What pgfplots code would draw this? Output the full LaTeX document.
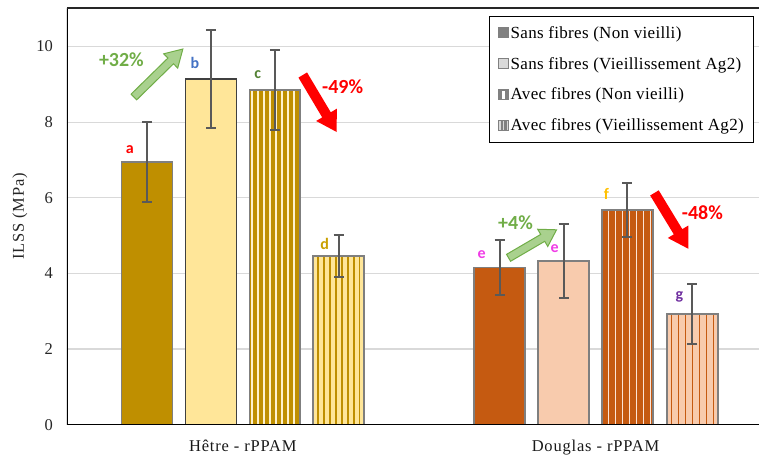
\documentclass[border=0pt]{standalone}
\usepackage{pgfplots}
\pgfplotsset{compat=1.18}
\usetikzlibrary{patterns.meta}
\usepackage{fontspec}
\setmainfont{Liberation Serif}
\newfontfamily\lsA{Liberation Serif}[LetterSpace=5]
\newfontfamily\lsB{Liberation Serif}[LetterSpace=2]
\newfontfamily\calib{Carlito}
\definecolor{hD}{HTML}{BF8F00}
\definecolor{hL}{HTML}{FFE699}
\definecolor{hS}{HTML}{FFF2CC}
\definecolor{dD}{HTML}{C55A11}
\definecolor{dL}{HTML}{F8CBAD}
\definecolor{dS}{HTML}{FCE4D6}
\definecolor{edge}{HTML}{7F7F7F}
\definecolor{gridc}{HTML}{D9D9D9}
\definecolor{ebar}{HTML}{595959}
\definecolor{gArF}{HTML}{A9D18E}
\definecolor{gArD}{HTML}{70AD47}
\definecolor{lb}{HTML}{4472C4}
\definecolor{lc}{HTML}{548235}
\definecolor{ld}{HTML}{C9A000}
\definecolor{le}{HTML}{F03CE6}
\definecolor{lf}{HTML}{FFC000}
\definecolor{lg}{HTML}{7030A0}
\pgfplotsset{
  bb/.style={ybar, bar width=51, line width=1.5pt, forget plot},
  eb/.style={error bars/.cd, y dir=both, y explicit,
    error bar style={draw=ebar, line width=2pt},
    error mark options={rotate=90, draw=ebar, line width=2pt, mark size=5pt}},
  strH/.style={pattern={Lines[angle=90,distance=6pt,line width=1.6pt]}},
  strD/.style={pattern={Lines[angle=90,distance=7pt,line width=1.6pt]}},
}
\begin{document}
\begin{tikzpicture}
\begin{axis}[
  at={(0,0)}, anchor=south west,
  scale only axis, width=693pt, height=417pt,
  xmin=0, xmax=693, ymin=0, ymax=11.02,
  axis line style={draw=none},
  ymajorgrids, grid style={gridc, line width=1.3pt},
  ytick={0,2,4,6,8,10},
  xtick={176,529},
  xticklabels={Hêtre - rPPAM, Douglas - rPPAM},
  major tick length=0pt,
  tick style={draw=none},
  /pgf/number format/assume math mode=true,
  yticklabel style={font=\fontsize{16.5}{18}\selectfont, text=black!85, anchor=east, inner sep=0pt, xshift=-14pt},
  xticklabel style={font=\lsA\fontsize{16.5}{18}\selectfont, text=black!90, anchor=base, inner sep=0pt, yshift=-26.7pt},
  ylabel={ILSS (MPa)},
  every axis y label/.style={at={(axis description cs:0,0.5)}, xshift=-47pt, rotate=90, anchor=center, font=\lsA\fontsize{16.5}{18}\selectfont, text=black!85},
  legend style={at={(axis cs:688,10.82)}, anchor=north east, draw=black, line width=1.2pt,
    font=\lsB\fontsize{17}{19}\selectfont, inner xsep=8.5pt, inner ysep=8pt, row sep=13.5pt,
    cells={anchor=west}, nodes={inner xsep=1.5pt}},
]
% Hetre
\addplot[bb, fill=hD, draw=edge, eb] coordinates {(80,6.95) +- (0,1.06)};
\addplot[bb, fill=hL, draw=black!75, eb] coordinates {(144,9.14) +- (0,1.29)};
\addplot[bb, fill=hD, draw=edge] coordinates {(208,8.85)};
\addplot[bb, strH, pattern color=hS, draw=edge, eb] coordinates {(208,8.85) +- (0,1.06)};
\addplot[bb, fill=hL, draw=edge] coordinates {(272,4.46)};
\addplot[bb, strH, pattern color=hD, draw=edge, eb] coordinates {(272,4.46) +- (0,0.56)};
% Douglas
\addplot[bb, fill=dD, draw=edge, eb] coordinates {(433,4.15) +- (0,0.73)};
\addplot[bb, fill=dL, draw=edge, eb] coordinates {(497,4.33) +- (0,0.97)};
\addplot[bb, fill=dD, draw=edge] coordinates {(561,5.68)};
\addplot[bb, strD, pattern color=dS, draw=edge, eb] coordinates {(561,5.68) +- (0,0.72)};
\addplot[bb, fill=dL, draw=edge] coordinates {(626,2.93)};
\addplot[bb, strD, pattern color=dD, draw=edge, eb] coordinates {(626,2.93) +- (0,0.80)};
% legend
\addlegendimage{legend image code/.code={\draw[fill=gray, draw=gray, line width=0.8pt] (0pt,-5pt) rectangle (10pt,5pt);}}
\addlegendentry{Sans fibres (Non vieilli)}
\addlegendimage{legend image code/.code={\draw[fill=gray!30, draw=gray, line width=0.8pt] (0pt,-5pt) rectangle (10pt,5pt);}}
\addlegendentry{Sans fibres (Vieillissement Ag2)}
\addlegendimage{legend image code/.code={\draw[fill=gray, draw=gray, line width=0.8pt] (0pt,-5pt) rectangle (10pt,5pt); \fill[white] (4.2pt,-3.5pt) rectangle (5.8pt,3.5pt);}}
\addlegendentry{Avec fibres (Non vieilli)}
\addlegendimage{legend image code/.code={\draw[fill=gray!30, draw=gray, line width=0.8pt] (0pt,-5pt) rectangle (10pt,5pt); \fill[gray] (2.8pt,-4.5pt) rectangle (3.8pt,4.5pt); \fill[gray] (6.2pt,-4.5pt) rectangle (7.2pt,4.5pt);}}
\addlegendentry{Avec fibres (Vieillissement Ag2)}
% axis lines
\draw[black, line width=1.6pt] (rel axis cs:0,1) -- (rel axis cs:0,0) -- (rel axis cs:1,0);
\draw[black!85, line width=1.6pt] (rel axis cs:0,1) -- (rel axis cs:1,1);
% letters
\begin{scope}[font=\calib\bfseries\fontsize{16}{16}\selectfont]
\node[text=red] at (axis cs:63,7.27) {a};
\node[text=lb] at (axis cs:128,9.56) {b};
\node[text=lc] at (axis cs:191,9.25) {c};
\node[text=ld] at (axis cs:258,4.78) {d};
\node[text=le] at (axis cs:415,4.49) {e};
\node[text=le] at (axis cs:488,4.65) {e};
\node[text=lf] at (axis cs:540,6.10) {f};
\node[text=lg] at (axis cs:613,3.38) {g};
\end{scope}
\begin{scope}[font=\calib\bfseries\fontsize{20}{20}\selectfont]
\node[text=gArD] at (axis cs:54.5,9.64) {+32\%};
\node[text=red] at (axis cs:276,8.93) {-49\%};
\node[text=gArD] at (axis cs:449,5.34) {+4\%};
\node[text=red] at (axis cs:636,5.60) {-48\%};
\end{scope}
\coordinate (A1) at (axis cs:67,8.666);
\coordinate (A2) at (axis cs:236,9.247);
\coordinate (A3) at (axis cs:442,4.412);
\coordinate (A4) at (axis cs:588,6.129);
\end{axis}
% block arrows
\draw[shift={(A1)}, rotate=44.4, draw=gArD, fill=gArF, line width=1pt, line join=miter]
  (0pt,-4pt) -- (51.6pt,-4pt) -- (51.6pt,-10pt) -- (68.6pt,0pt) -- (51.6pt,10pt) -- (51.6pt,4pt) -- (0pt,4pt) -- cycle;
\fill[shift={(A2)}, rotate=-59.2, red]
  (0pt,-5pt) -- (46.4pt,-5pt) -- (46.4pt,-12pt) -- (66.4pt,0pt) -- (46.4pt,12pt) -- (46.4pt,5pt) -- (0pt,5pt) -- cycle;
\draw[shift={(A3)}, rotate=30.3, draw=gArD, fill=gArF, line width=1pt, line join=miter]
  (0pt,-4pt) -- (39.6pt,-4pt) -- (39.6pt,-10pt) -- (55.6pt,0pt) -- (39.6pt,10pt) -- (39.6pt,4pt) -- (0pt,4pt) -- cycle;
\fill[shift={(A4)}, rotate=-58.7, red]
  (0pt,-5pt) -- (45.5pt,-5pt) -- (45.5pt,-12pt) -- (65.5pt,0pt) -- (45.5pt,12pt) -- (45.5pt,5pt) -- (0pt,5pt) -- cycle;
% bounding box
\path[use as bounding box] (-67pt,-32pt) rectangle (693pt,425pt);
\end{tikzpicture}
\end{document}
